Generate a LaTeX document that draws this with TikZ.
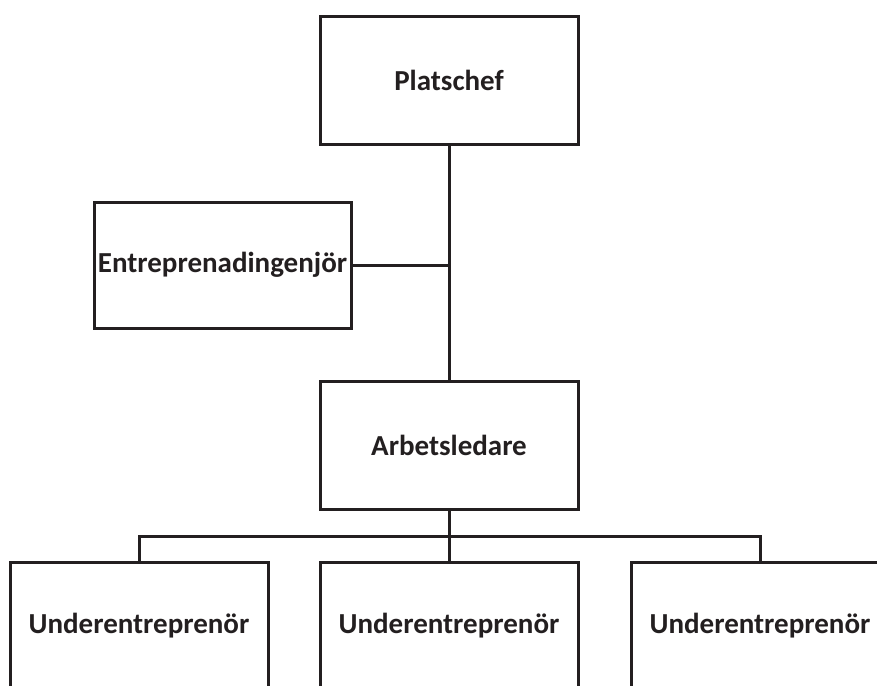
\documentclass[tikz,border=0pt]{standalone}
\usepackage{fontspec}
\setmainfont{Carlito}
\definecolor{ink}{HTML}{231F20}
\begin{document}
\begin{tikzpicture}[x=1pt,y=-1pt,line width=3pt,
  orgbox/.style={draw=ink, fill=white, rectangle, inner sep=0pt,
    minimum width=258pt, minimum height=128pt, text=ink,
    font=\bfseries\fontsize{29}{34}\selectfont},
  link/.style={draw=ink, line width=3pt}]
\useasboundingbox (0,0) rectangle (877,685);
\begin{scope}
\clip (0,0) rectangle (877,685);
% boxes
\node[orgbox] (plat) at (449,80.5) {Platschef};
\node[orgbox, minimum width=257pt, minimum height=126pt] (entr) at (222.5,265) {Entreprenadingenjör};
\node[orgbox] (arb) at (449,445) {Arbetsledare};
\node[orgbox] (u1) at (139,626) {Underentreprenör};
\node[orgbox] (u2) at (449,626) {Underentreprenör};
\node[orgbox] (u3) at (760,626) {Underentreprenör};
\coordinate (bus) at (449,536);
% connectors
\draw[link] (plat.south) -- (arb.north);
\draw[link] (entr.east) -- (entr.east -| plat.south);
\draw[link] (arb.south) -- (u2.north);
\draw[link] (u1.north) -- (u1.north |- bus) -- (u3.north |- bus) -- (u3.north);
\end{scope}
\end{tikzpicture}
\end{document}
